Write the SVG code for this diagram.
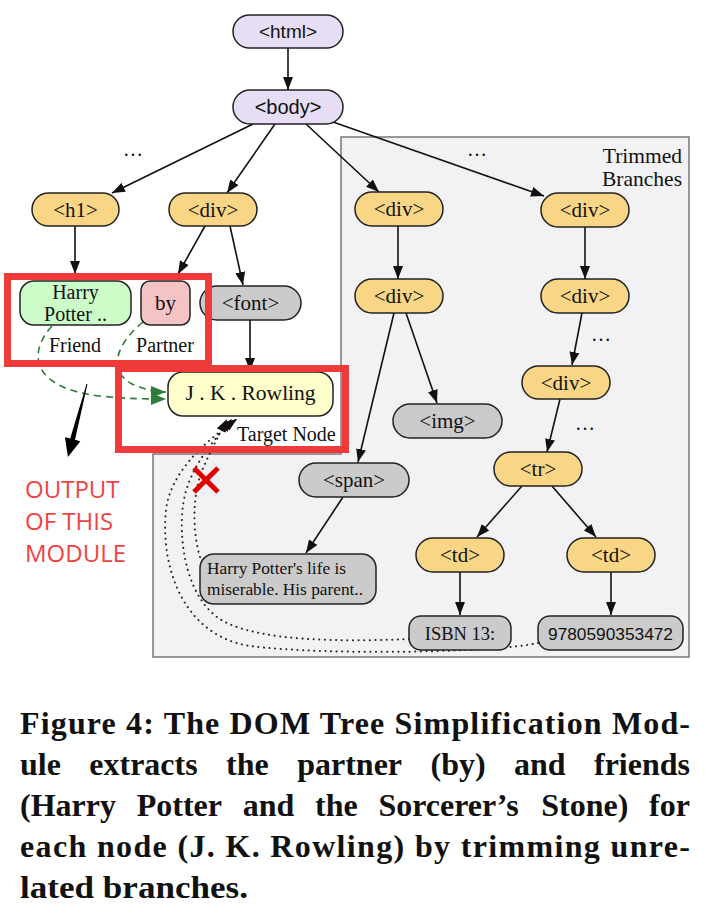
<svg xmlns="http://www.w3.org/2000/svg" width="714" height="915" viewBox="0 0 714 915">
<style>
.n{stroke:#222;stroke-width:1.5}
.lav{fill:#e7def5}.gold{fill:#f8d685}.gray{fill:#cbcbcb}
.ss{font-family:"Liberation Sans",Arial,sans-serif;fill:#111}
.sf{font-family:"Liberation Serif","Times New Roman",serif;fill:#111}
.e{stroke:#111;stroke-width:1.6;fill:none;marker-end:url(#ah)}
.dot{stroke:#222;stroke-width:2;fill:none;stroke-dasharray:0.1,5.5;stroke-linecap:round;marker-end:url(#ah)}
.grn{stroke:#2e7d3a;stroke-width:1.6;fill:none;stroke-dasharray:7,5;marker-end:url(#gh)}
.red{fill:none;stroke:#f03a3a;stroke-width:7}
.cap{font-family:"Liberation Serif","Times New Roman",serif;font-weight:bold;font-size:32px;fill:#111}
</style>
<defs>
<marker id="ah" markerUnits="userSpaceOnUse" markerWidth="14" markerHeight="10" refX="13" refY="5" orient="auto"><path d="M0,0 L13,5 L0,10 z" fill="#111"/></marker>
<marker id="gh" markerUnits="userSpaceOnUse" markerWidth="16" markerHeight="12" refX="15" refY="6" orient="auto"><path d="M0,0 L15,6 L0,12 z" fill="#2e7d3a"/></marker>
</defs>
<rect width="714" height="915" fill="#fff"/>
<path id="trimmed" d="M341,137 H689 V657 H153 V454 H341 Z" fill="#f2f2f4" stroke="#777" stroke-width="1.5"/>
<text class="sf" x="682" y="163" font-size="21.5" text-anchor="end">Trimmed</text>
<text class="sf" x="682" y="186" font-size="21.5" text-anchor="end">Branches</text>
<text class="sf" x="123" y="156" font-size="20">…</text>
<text class="sf" x="467" y="156" font-size="20">…</text>
<text class="sf" x="591" y="341" font-size="20">…</text>
<text class="sf" x="575" y="430" font-size="20">…</text>

<g id="connectors">
<line class="e" x1="288" y1="48" x2="288" y2="90"/>
<line class="e" x1="253" y1="124" x2="112" y2="193"/>
<line class="e" x1="275" y1="124" x2="227" y2="193"/>
<line class="e" x1="306" y1="124" x2="379" y2="192"/>
<line class="e" x1="333" y1="122" x2="544" y2="196"/>
<line class="e" x1="75" y1="226" x2="75" y2="274"/>
<line class="e" x1="205" y1="226" x2="178" y2="274"/>
<line class="e" x1="230" y1="226" x2="243" y2="285"/>
<line class="e" x1="250" y1="320" x2="250" y2="371"/>
<line class="e" x1="398" y1="226" x2="398" y2="279"/>
<line class="e" x1="585" y1="227" x2="585" y2="279"/>
<line class="e" x1="582" y1="313" x2="572" y2="365"/>
<line class="e" x1="560" y1="399" x2="547" y2="452"/>
<line class="e" x1="406" y1="313" x2="437" y2="403"/>
<line class="e" x1="394" y1="313" x2="358" y2="462"/>
<line class="e" x1="343" y1="497" x2="306" y2="553"/>
<line class="e" x1="522" y1="486" x2="477" y2="537"/>
<line class="e" x1="552" y1="486" x2="596" y2="537"/>
<line class="e" x1="460" y1="572" x2="460" y2="615"/>
<line class="e" x1="611" y1="572" x2="611" y2="615"/>
<path class="dot" d="M538,643 C500,652 330,656 250,646 C185,636 160,570 166,510 C170,475 200,445 237,419"/>
<path class="dot" d="M409,639 C340,642 262,641 225,622 C188,603 178,545 183,505 C188,470 210,445 232,419"/>
<path class="dot" d="M200,557 C192,530 192,492 204,466 C211,450 219,435 227,419"/>
<path class="grn" d="M52,326 C28,352 30,388 100,396 C128,399 148,399 166,399"/>
<path class="grn" d="M143,322 C118,342 106,370 132,384 C146,390 154,392 166,392"/>
</g>

<g id="n-html"><rect class="n lav" x="233" y="15" width="110" height="33" rx="16.5"/><text class="ss" x="288" y="38" font-size="19" text-anchor="middle">&lt;html&gt;</text></g>
<g id="n-body"><rect class="n lav" x="233" y="90" width="110" height="34" rx="17"/><text class="ss" x="288" y="114" font-size="20" text-anchor="middle">&lt;body&gt;</text></g>
<g id="n-h1"><rect class="n gold" x="32" y="193" width="87" height="33" rx="16.5"/><text class="sf" x="75.5" y="217" font-size="21" text-anchor="middle">&lt;h1&gt;</text></g>
<g id="n-div1"><rect class="n gold" x="169" y="193" width="88" height="33" rx="16.5"/><text class="sf" x="213" y="217" font-size="21" text-anchor="middle">&lt;div&gt;</text></g>
<g id="n-div2"><rect class="n gold" x="355" y="192" width="88" height="34" rx="17"/><text class="sf" x="399" y="216" font-size="21" text-anchor="middle">&lt;div&gt;</text></g>
<g id="n-div3"><rect class="n gold" x="541" y="193" width="88" height="34" rx="17"/><text class="sf" x="585" y="217" font-size="21" text-anchor="middle">&lt;div&gt;</text></g>
<g id="n-div4"><rect class="n gold" x="355" y="279" width="88" height="34" rx="17"/><text class="sf" x="399" y="303" font-size="21" text-anchor="middle">&lt;div&gt;</text></g>
<g id="n-div5"><rect class="n gold" x="541" y="279" width="88" height="34" rx="17"/><text class="sf" x="585" y="303" font-size="21" text-anchor="middle">&lt;div&gt;</text></g>
<g id="n-div6"><rect class="n gold" x="522" y="366" width="88" height="33" rx="16.5"/><text class="sf" x="566" y="390" font-size="21" text-anchor="middle">&lt;div&gt;</text></g>
<g id="n-img"><rect class="n gray" x="393" y="404" width="109" height="34" rx="17"/><text class="sf" x="447.5" y="428" font-size="21" text-anchor="middle">&lt;img&gt;</text></g>
<g id="n-span"><rect class="n gray" x="299" y="463" width="110" height="34" rx="17"/><text class="sf" x="354" y="487" font-size="21" text-anchor="middle">&lt;span&gt;</text></g>
<g id="n-text"><rect class="n gray" x="200" y="554" width="176" height="50" rx="14"/><text class="sf" x="207" y="574" font-size="17.3">Harry Potter's life is</text><text class="sf" x="207" y="595" font-size="17.3">miserable. His parent..</text></g>
<g id="n-tr"><rect class="n gold" x="494" y="452" width="88" height="34" rx="17"/><text class="sf" x="538" y="476" font-size="21" text-anchor="middle">&lt;tr&gt;</text></g>
<g id="n-td1"><rect class="n gold" x="416" y="538" width="88" height="34" rx="17"/><text class="sf" x="460" y="562" font-size="21" text-anchor="middle">&lt;td&gt;</text></g>
<g id="n-td2"><rect class="n gold" x="567" y="538" width="88" height="34" rx="17"/><text class="sf" x="611" y="562" font-size="21" text-anchor="middle">&lt;td&gt;</text></g>
<g id="n-isbn"><rect class="n gray" x="409" y="616" width="102" height="34" rx="12"/><text class="sf" x="460" y="639.5" font-size="18.5" text-anchor="middle">ISBN 13:</text></g>
<g id="n-num"><rect class="n gray" x="538" y="616" width="145" height="34" rx="12"/><text class="ss" x="610.5" y="639.5" font-size="17.3" text-anchor="middle">9780590353472</text></g>
<g id="n-harry"><rect class="n" fill="#ccfcc8" x="20" y="281" width="111" height="44" rx="14"/><text class="sf" x="75.5" y="299" font-size="20" text-anchor="middle">Harry</text><text class="sf" x="75.5" y="321" font-size="20" text-anchor="middle">Potter ..</text></g>
<g id="n-by"><rect class="n" fill="#f4c3c3" x="141" y="281" width="49" height="44" rx="9"/><text class="sf" x="165.5" y="310" font-size="21" text-anchor="middle">by</text></g>
<g id="n-font"><rect class="n gray" x="200" y="286" width="101" height="34" rx="17"/><text class="sf" x="250.5" y="310" font-size="21" text-anchor="middle">&lt;font&gt;</text></g>
<g id="n-jk"><rect class="n" fill="#ffffcc" x="168" y="372" width="165" height="44" rx="15"/><text class="sf" x="250.5" y="400" font-size="21.5" text-anchor="middle">J . K . Rowling</text></g>
<text class="sf" x="75" y="352" font-size="20" text-anchor="middle">Friend</text>
<text class="sf" x="165" y="352" font-size="20" text-anchor="middle">Partner</text>
<text class="sf" x="237" y="441" font-size="20">Target Node</text>

<rect class="red" x="7.5" y="276.5" width="201" height="87"/>
<rect class="red" x="118.5" y="368.5" width="227" height="81"/>
<g id="cross" stroke="#e00000" stroke-width="5"><line x1="194" y1="468" x2="218" y2="492"/><line x1="218" y1="468" x2="194" y2="492"/></g>
<polygon points="86.5,384 87.5,384.1 75,439.8 80.3,441.2 68,457 64.9,437.2 70.2,438.6" fill="#000"/>
<g font-family="'Open Sans','Liberation Sans',Arial,sans-serif" font-size="24" fill="#f04343">
<text x="25" y="498">OUTPUT</text>
<text x="25" y="530">OF THIS</text>
<text x="25" y="562">MODULE</text>
</g>

<g id="caption" class="cap">
<text x="20" y="734" textLength="670" lengthAdjust="spacing">Figure 4: The DOM Tree Simplification Mod-</text>
<text y="775"><tspan x="20">ule</tspan><tspan x="89.3">extracts</tspan><tspan x="226.1">the</tspan><tspan x="297.2">partner</tspan><tspan x="430.5">(by)</tspan><tspan x="514">and</tspan><tspan x="594">friends</tspan></text>
<text y="816"><tspan x="20">(Harry</tspan><tspan x="136.7">Potter</tspan><tspan x="242.7">and</tspan><tspan x="315">the</tspan><tspan x="378.4">Sorcerer’s</tspan><tspan x="541.2">Stone)</tspan><tspan x="649">for</tspan></text>
<text x="20" y="857" textLength="670" lengthAdjust="spacing">each node (J. K. Rowling) by trimming unre-</text>
<text x="20" y="898" textLength="228" lengthAdjust="spacingAndGlyphs">lated branches.</text>
</g>
</svg>
